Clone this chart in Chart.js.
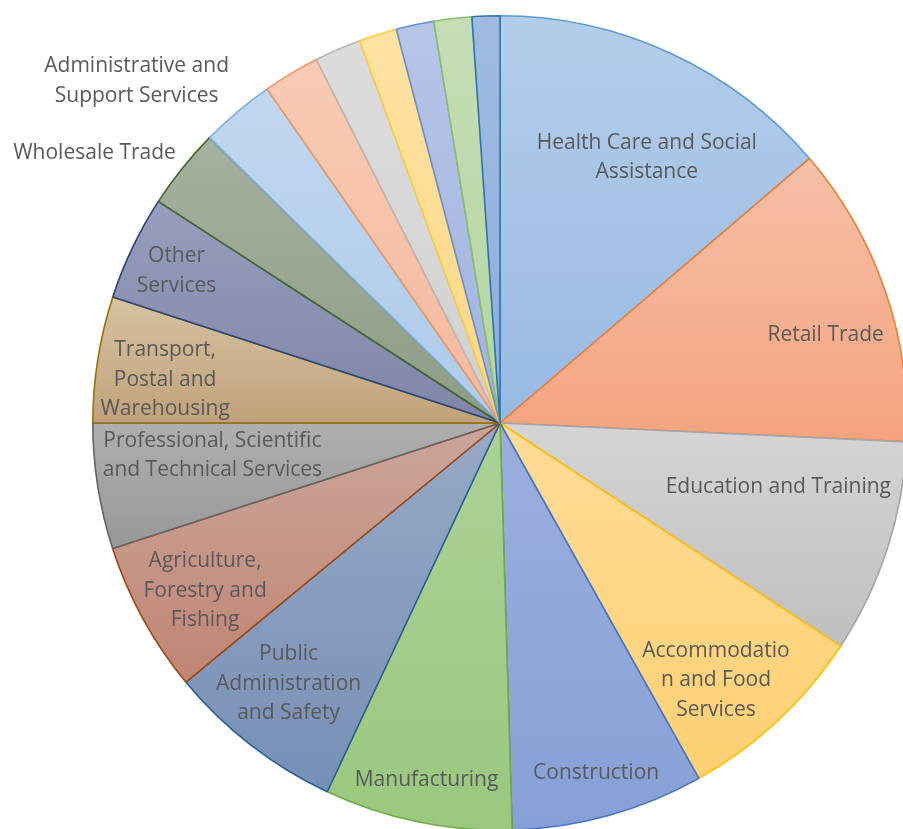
<!DOCTYPE html>
<html>
<head>
<meta charset="utf-8">
<script src="https://cdn.jsdelivr.net/npm/chart.js@4/dist/chart.umd.min.js"></script>
<style>
  html, body { margin: 0; padding: 0; background: #fff; overflow: hidden; }
  #wrap { position: absolute; left: 0; top: 0; width: 1000px; height: 850px; }
</style>
</head>
<body>
<div id="wrap"><canvas id="chart" width="1000" height="850"></canvas></div>
<script>
// industries, largest first (clockwise from 12 o'clock)
const categories = [
  'Health Care and Social Assistance',
  'Retail Trade',
  'Education and Training',
  'Accommodation and Food Services',
  'Construction',
  'Manufacturing',
  'Public Administration and Safety',
  'Agriculture, Forestry and Fishing',
  'Professional, Scientific and Technical Services',
  'Transport, Postal and Warehousing',
  'Other Services',
  'Wholesale Trade',
  'Administrative and Support Services',
  'Financial and Insurance Services',
  'Arts and Recreation Services',
  'Rental, Hiring and Real Estate Services',
  'Electricity, Gas, Water and Waste Services',
  'Mining',
  'Information Media and Telecommunications'
]
// share of employment (%)
const shares = [13.75, 12.0, 8.5, 7.65, 7.65, 7.45, 7.05, 6.0, 5.0, 5.0, 4.15, 3.2, 2.95, 2.25, 1.85, 1.5, 1.5, 1.5, 1.1]

// text as it is wrapped on the chart (empty = no label)
const labelLines = [
  ['Health Care and Social', 'Assistance'],
  ['Retail Trade'],
  ['Education and Training'],
  ['Accommodatio', 'n and Food', 'Services'],
  ['Construction'],
  ['Manufacturing'],
  ['Public', 'Administration', 'and Safety'],
  ['Agriculture,', 'Forestry and', 'Fishing'],
  ['Professional, Scientific', 'and Technical Services'],
  ['Transport,', 'Postal and', 'Warehousing'],
  ['Other', 'Services'],
  ['Wholesale Trade'],
  ['Administrative and', 'Support Services'],
  [], [], [], [], [], []
]

const lineColors = [
  '#5B9BD5', '#ED7D31', '#A5A5A5', '#FFC000', '#4472C4', '#70AD47',
  '#255E91', '#9E480E', '#636363', '#997300', '#264478', '#43682B',
  '#7CAFDD', '#F1975A', '#B7B7B7', '#FFCD33', '#698ED0', '#8CC168', '#2E75B6'
]
// gradient fill, top of slice -> bottom of slice
const fillTop = [
  '#B4CDEA', '#F6C0A8', '#D5D5D5', '#FEDC98', '#9CAFDE', '#ADD197',
  '#97A9C6', '#CBA69B', '#AFAFAF', '#D7C2A3', '#989EBC', '#A5B19F',
  '#C2D7EF', '#F9CBB5', '#DCDCDC', '#FFE3A3', '#B6C5E7', '#C6DEB6', '#A0BBE1'
]
const fillBottom = [
  '#98BAE2', '#F5A37E', '#BFBFBF', '#FFD072', '#86A0D6', '#9AC87E',
  '#778FB5', '#C08573', '#989898', '#C0A27A', '#7E85A6', '#8E9D86',
  '#ADCBEB', '#F4B99D', '#D1D1D1', '#FDD785', '#A1B3DF', '#B4D5A0', '#8CAEDB'
]

// label placement: fraction of radius, angle shift (deg) from mid-slice
const labelPos = [
  [0.75, 4], [0.83, 3.4], [0.70, -5.5], [0.82, 2.7], [0.885, 0], [0.89, 0],
  [0.82, 1.5], [0.83, -0.5], [0.71, 3], [0.83, -1.3], [0.88, 0], [1.2, -4.8], [1.23, -6.3]
]

// vertical extent of a slice, from the data and the chart area
function sliceSpan(chart, i) {
  const area = chart.chartArea
  const cy = (area.top + area.bottom) / 2
  const r = Math.min(area.right - area.left, area.bottom - area.top) / 2
  const total = shares.reduce((s, v) => s + v, 0)
  const before = shares.slice(0, i).reduce((s, v) => s + v, 0)
  const a0 = -Math.PI / 2 + before / total * 2 * Math.PI
  const a1 = a0 + shares[i] / total * 2 * Math.PI
  const ys = [0, Math.sin(a0), Math.sin(a1)]
  const has = (a) => {
    for (let k = -1; k <= 1; k++) {
      const t = a + k * 2 * Math.PI
      if (t >= a0 && t <= a1) return true
    }
    return false
  }
  if (has(-Math.PI / 2)) ys.push(-1)
  if (has(Math.PI / 2)) ys.push(1)
  return [cy + r * Math.min(...ys), cy + r * Math.max(...ys)]
}

const sliceLabels = {
  id: 'sliceLabels',
  afterDatasetsDraw(chart) {
    const ctx = chart.ctx
    const meta = chart.getDatasetMeta(0)
    ctx.save()
    ctx.font = '21px "Open Sans"'
    ctx.fillStyle = '#595959'
    ctx.textAlign = 'center'
    ctx.textBaseline = 'middle'
    const lh = 29.5
    meta.data.forEach((arc, i) => {
      const lines = labelLines[i]
      if (!lines || !lines.length) return
      const p = arc.getProps(['x', 'y', 'startAngle', 'endAngle', 'outerRadius'], true)
      const [frac, shift] = labelPos[i]
      const a = (p.startAngle + p.endAngle) / 2 + shift * Math.PI / 180
      const cx = p.x + Math.cos(a) * p.outerRadius * frac
      const cy = p.y + Math.sin(a) * p.outerRadius * frac + 2.5
      const top = cy - (lines.length - 1) * lh / 2
      lines.forEach((t, k) => ctx.fillText(t, cx, top + k * lh))
    })
    ctx.restore()
  }
}

new Chart(document.getElementById('chart'), {
  type: 'pie',
  data: {
    labels: categories,
    datasets: [{
      data: shares,
      backgroundColor: (c) => {
        const i = c.dataIndex
        if (!c.chart.chartArea || i === undefined) return fillTop[i || 0]
        const [y0, y1] = sliceSpan(c.chart, i)
        const g = c.chart.ctx.createLinearGradient(0, y0, 0, y1)
        g.addColorStop(0, fillTop[i])
        g.addColorStop(1, fillBottom[i])
        return g
      },
      borderColor: lineColors,
      borderWidth: 1.6
    }]
  },
  options: {
    responsive: false,
    animation: false,
    layout: { padding: { left: 92, top: 15, right: 92, bottom: 19 } },
    plugins: {
      legend: { display: false },
      tooltip: { enabled: false }
    }
  },
  plugins: [sliceLabels]
})
</script>
</body>
</html>
